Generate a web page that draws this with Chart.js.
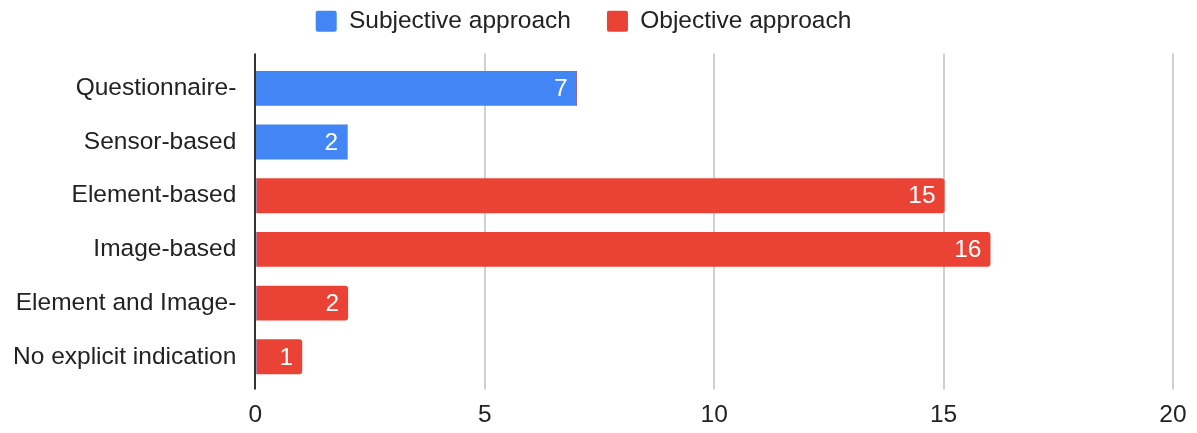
<!DOCTYPE html>
<html>
<head>
<meta charset="utf-8">
<script src="https://cdn.jsdelivr.net/npm/chart.js@4.4.1/dist/chart.umd.min.js"></script>
<style>
  body { margin: 0; background: #fff; }
  #wrap { width: 1197px; height: 433px; }
</style>
</head>
<body>
<div id="wrap"><canvas id="approachChart" width="1197" height="433"></canvas></div>
<script>
const categories = ['Questionnaire-', 'Sensor-based', 'Element-based', 'Image-based', 'Element and Image-', 'No explicit indication'];
const subjective = [7, 2, 0, 0, 0, 0];
const objective = [0, 0, 15, 16, 2, 1];
const xMax = 20;
const xStep = 5;

Chart.defaults.font.family = "'Liberation Sans', Arial, sans-serif";
Chart.defaults.font.size = 24.5;
Chart.defaults.color = '#222';

// extra room under the legend
const legendGap = {
    id: 'legendGap',
    beforeInit(chart) {
        const fit = chart.legend.fit;
        chart.legend.fit = function () {
            fit.call(this);
            this.height += 18;
        };
    }
};

// vertical grid lines + y axis line, a bit longer than the plot area like the original
const gridLines = {
    id: 'gridLines',
    beforeDatasetsDraw(chart) {
        const { ctx, chartArea, scales } = chart;
        ctx.save();
        ctx.strokeStyle = '#d0d0d0';
        ctx.lineWidth = 2;
        scales.x.ticks.forEach(t => {
            if (t.value === 0) return;
            const x = Math.round(scales.x.getPixelForValue(t.value));
            ctx.beginPath();
            ctx.moveTo(x, chartArea.top - 8);
            ctx.lineTo(x, chartArea.bottom + 6);
            ctx.stroke();
        });
        ctx.restore();
    },
    afterDatasetsDraw(chart) {
        const { ctx, chartArea, scales } = chart;
        const x0 = Math.round(scales.x.getPixelForValue(0));
        ctx.save();
        ctx.strokeStyle = '#333';
        ctx.lineWidth = 2;
        ctx.beginPath();
        ctx.moveTo(x0, chartArea.top - 8);
        ctx.lineTo(x0, chartArea.bottom + 6);
        ctx.stroke();
        ctx.restore();
    }
};

// value labels inside the end of each bar
const barLabels = {
    id: 'barLabels',
    afterDatasetsDraw(chart) {
        const { ctx } = chart;
        ctx.save();
        ctx.fillStyle = '#fff';
        ctx.font = "24.5px 'Liberation Sans', Arial, sans-serif";
        ctx.textAlign = 'right';
        ctx.textBaseline = 'middle';
        chart.data.datasets.forEach((ds, i) => {
            const meta = chart.getDatasetMeta(i);
            meta.data.forEach((bar, j) => {
                const v = ds.data[j];
                if (!v) return;
                ctx.fillText(String(v), bar.x - 9, bar.y + 1);
            });
        });
        ctx.restore();
    }
};

new Chart(document.getElementById('approachChart'), {
    type: 'bar',
    data: {
        labels: categories,
        datasets: [{
            label: 'Subjective approach',
            data: subjective,
            backgroundColor: '#4285F4',
            borderRadius: 0,
            minBarLength: 1
        },
        {
            label: 'Objective approach',
            data: objective,
            backgroundColor: '#EA4335',
            borderRadius: 3,
            borderSkipped: 'start',
            minBarLength: 1
        }]
    },
    options: {
        indexAxis: 'y',
        responsive: false,
        animation: false,
        layout: { padding: { left: -6, right: 24, top: -27, bottom: -14 } },
        datasets: { bar: { barPercentage: 0.65, categoryPercentage: 1 } },
        plugins: {
            legend: {
                position: 'top',
                labels: {
                    boxWidth: 21,
                    boxHeight: 21,
                    useBorderRadius: true,
                    borderRadius: 2,
                    padding: 36,
                    color: '#222',
                    font: { size: 24.5 }
                }
            },
            tooltip: { enabled: false }
        },
        scales: {
            x: {
                stacked: true,
                min: 0,
                max: xMax,
                ticks: { stepSize: xStep, padding: 17, color: '#222' },
                grid: { display: false, drawTicks: false },
                border: { display: false },
                afterFit(scale) { scale.paddingRight = 0; }
            },
            y: {
                stacked: true,
                ticks: { padding: 19, color: '#222' },
                grid: { display: false, drawTicks: false },
                border: { display: false }
            }
        }
    },
    plugins: [legendGap, gridLines, barLabels]
});
</script>
</body>
</html>
